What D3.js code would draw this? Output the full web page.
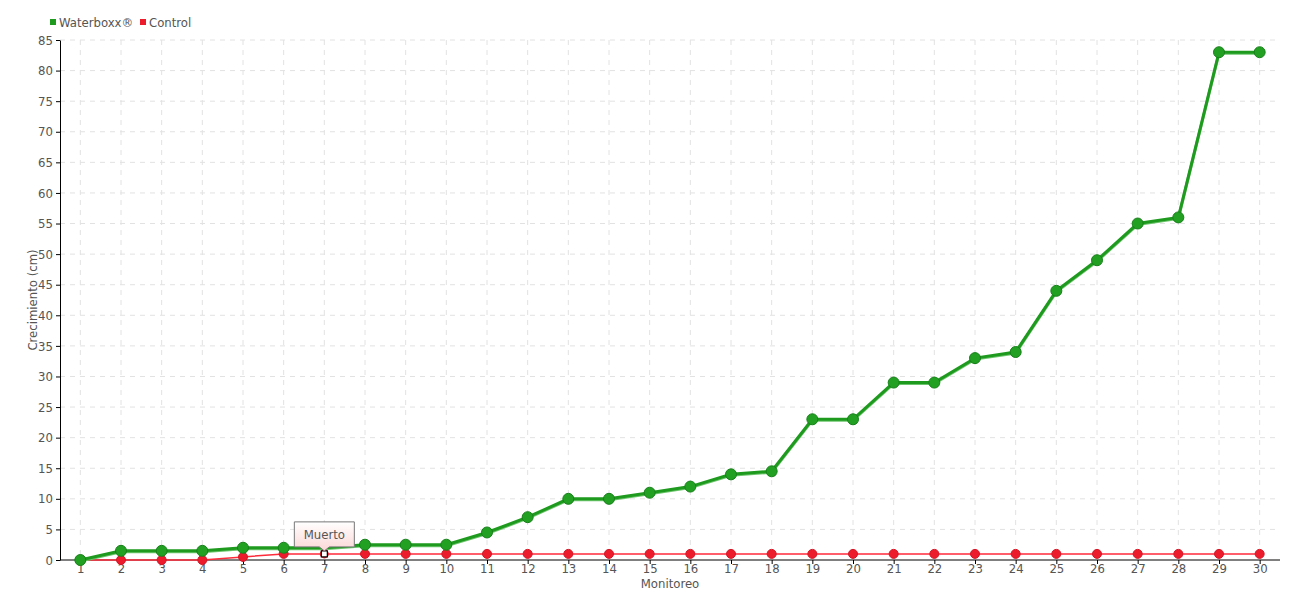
<!DOCTYPE html>
<html>
<head>
<meta charset="utf-8">
<script src="https://cdn.jsdelivr.net/npm/d3@7"></script>
<style>
  body { margin: 0; background: #fff; }
  svg text { font-family: "DejaVu Sans Condensed", "DejaVu Sans", sans-serif; font-stretch: condensed; fill: #555; }
</style>
</head>
<body>
<svg id="chart" width="1300" height="600"></svg>
<script>
const monitoreo = d3.range(1, 31)
const waterboxx = [0, 1.5, 1.5, 1.5, 2, 2, 2, 2.5, 2.5, 2.5, 4.5, 7, 10, 10, 11, 12, 14, 14.5, 23, 23, 29, 29, 33, 34, 44, 49, 55, 56, 83, 83]
const control = [0, 0, 0, 0, 0.5, 1, 1, 1, 1, 1, 1, 1, 1, 1, 1, 1, 1, 1, 1, 1, 1, 1, 1, 1, 1, 1, 1, 1, 1, 1]
const yTicks = d3.range(0, 90, 5)
const note = { index: 7, label: "Muerto" }

const svg = d3.select("#chart")
const plotLeft = 60, plotRight = 1280, plotTop = 40, plotBottom = 560

const x = d3.scalePoint().domain(monitoreo).range([plotLeft, plotRight]).padding(0.5)
const y = d3.scaleLinear().domain([0, 85]).range([plotBottom, plotTop])

// grid
svg.append("g")
  .selectAll("line")
  .data(yTicks.filter(d => d > 0))
  .join("line")
  .attr("x1", plotLeft).attr("x2", plotRight)
  .attr("y1", d => y(d)).attr("y2", d => y(d))
  .attr("stroke", "#e2e2e2").attr("stroke-dasharray", "5,5")

svg.append("g")
  .selectAll("line")
  .data(monitoreo)
  .join("line")
  .attr("x1", d => x(d)).attr("x2", d => x(d))
  .attr("y1", plotTop).attr("y2", plotBottom)
  .attr("stroke", "#e2e2e2").attr("stroke-dasharray", "5,5")

// axes
const yAxis = svg.append("g")
  .attr("transform", `translate(${plotLeft},0)`)
  .call(d3.axisLeft(y).tickValues(yTicks).tickSize(4).tickSizeOuter(0).tickPadding(3))
yAxis.select(".domain").attr("stroke", "#000")
yAxis.selectAll("line").attr("stroke", "#000")
yAxis.selectAll("text").style("font-size", "13px").attr("fill", "#555")

const xAxis = svg.append("g")
  .attr("transform", `translate(0,${plotBottom})`)
  .call(d3.axisBottom(x).tickSize(4).tickSizeOuter(0).tickPadding(0))
xAxis.select(".domain").attr("stroke", "#000").attr("d", `M${plotLeft},0H${plotRight}`)
xAxis.selectAll("line").attr("stroke", "#000")
xAxis.selectAll("text").style("font-size", "13px").attr("fill", "#555")

svg.append("text")
  .attr("x", 670).attr("y", 588)
  .attr("text-anchor", "middle")
  .style("font-size", "13px")
  .text("Monitoreo")

svg.append("text")
  .attr("transform", `translate(37,300) rotate(-90)`)
  .attr("text-anchor", "middle")
  .style("font-size", "13px")
  .text("Crecimiento (cm)")

// lines
const line = d3.line().x((d, i) => x(monitoreo[i])).y(d => y(d))

svg.append("path")
  .datum(control)
  .attr("d", line)
  .attr("fill", "none")
  .attr("stroke", "#ff2a3a")
  .attr("stroke-width", 1.5)

svg.append("path")
  .datum(waterboxx)
  .attr("d", line)
  .attr("fill", "none")
  .attr("stroke", "#6cc46c")
  .attr("stroke-width", 3)
  .attr("transform", "translate(0,1)")

svg.append("path")
  .datum(waterboxx)
  .attr("d", line)
  .attr("fill", "none")
  .attr("stroke", "#1e9a1e")
  .attr("stroke-width", 3)

// markers
svg.append("g")
  .selectAll("circle")
  .data(control.map((v, i) => ({ v, m: monitoreo[i] })).filter(d => d.m !== note.index))
  .join("circle")
  .attr("cx", d => x(d.m))
  .attr("cy", d => y(d.v))
  .attr("r", 4.5)
  .attr("fill", "#ec1c2c")
  .attr("stroke", "#d41525")

svg.append("g")
  .selectAll("circle")
  .data(waterboxx.map((v, i) => ({ v, m: monitoreo[i] })).filter(d => d.m !== note.index))
  .join("circle")
  .attr("cx", d => x(d.m))
  .attr("cy", d => y(d.v))
  .attr("r", 5.5)
  .attr("fill", "#21a021")
  .attr("stroke", "#17801a")
  .attr("stroke-width", 1)

// note marker + label
const nx = x(note.index), ny = y(control[note.index - 1])
svg.append("circle").attr("cx", nx).attr("cy", ny).attr("r", 4.5).attr("fill", "#ec1c2c")
svg.append("rect")
  .attr("x", nx - 3).attr("y", ny - 3).attr("width", 6).attr("height", 6)
  .attr("fill", "#fff").attr("stroke", "#000").attr("stroke-width", 1.2)

const defs = svg.append("defs")
const grad = defs.append("linearGradient").attr("id", "tipGrad").attr("x1", 0).attr("y1", 0).attr("x2", 0).attr("y2", 1)
grad.append("stop").attr("offset", "0%").attr("stop-color", "#ffffff")
grad.append("stop").attr("offset", "100%").attr("stop-color", "#fcd6d6")

const tw = 60, th = 25, tb = ny - 7
svg.append("path")
  .attr("d", `M${nx - tw / 2},${tb - th}H${nx + tw / 2}V${tb}H${nx + 5}L${nx},${tb + 4}L${nx - 5},${tb}H${nx - tw / 2}Z`)
  .attr("fill", "url(#tipGrad)")
  .attr("stroke", "#777")

svg.append("text")
  .attr("x", nx).attr("y", tb - 8)
  .attr("text-anchor", "middle")
  .style("font-size", "13px")
  .text(note.label)

// legend
const legend = [
  { name: "Waterboxx®", color: "#1e9a1e", x: 50 },
  { name: "Control", color: "#ec1c2c", x: 140 }
]
const lg = svg.append("g").selectAll("g").data(legend).join("g")
lg.append("rect")
  .attr("x", d => d.x).attr("y", 19).attr("width", 6).attr("height", 6)
  .attr("fill", d => d.color)
lg.append("text")
  .attr("x", d => d.x + 9).attr("y", 27)
  .style("font-size", "13px")
  .text(d => d.name)
</script>
</body>
</html>
